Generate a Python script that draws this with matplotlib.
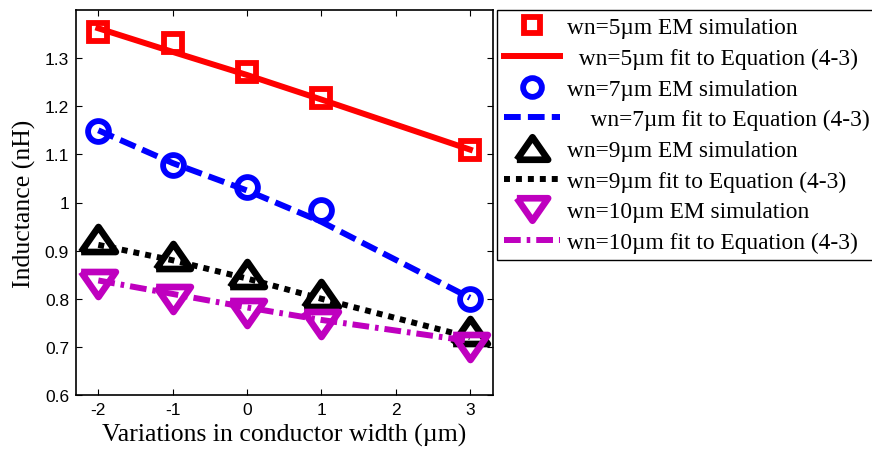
import matplotlib
matplotlib.use("Agg")
import matplotlib.pyplot as plt
import numpy as np

plt.rcParams["axes.unicode_minus"] = False

# variation in conductor width (um)
dw = [-2, -1, 0, 1, 3]

# EM simulation results (nH)
em_5 = [1.355, 1.332, 1.271, 1.218, 1.109]
em_7 = [1.149, 1.078, 1.032, 0.985, 0.800]
em_9 = [0.925, 0.888, 0.851, 0.809, 0.732]
em_10 = [0.830, 0.800, 0.771, 0.748, 0.699]

# fitted curves, Equation (4-3)
fit_5 = [1.362, 1.313, 1.265, 1.214, 1.110]
fit_7 = [1.150, 1.082, 1.025, 0.960, 0.802]
fit_9 = [0.912, 0.880, 0.842, 0.800, 0.720]
fit_10 = [0.838, 0.810, 0.782, 0.756, 0.712]

labels = ["wn=5\u00b5m EM simulation", "  wn=5\u00b5m fit to Equation (4-3)",
          "wn=7\u00b5m EM simulation", "    wn=7\u00b5m fit to Equation (4-3)",
          "wn=9\u00b5m EM simulation", "wn=9\u00b5m fit to Equation (4-3)",
          "wn=10\u00b5m EM simulation", "wn=10\u00b5m fit to Equation (4-3)"]

serif = "Liberation Serif"
sans = "Liberation Sans"

fig = plt.figure(figsize=(8.72, 4.56), dpi=100)
ax = fig.add_axes([76 / 872, 60 / 456, 417 / 872, 385 / 456])

tri_up = [(-1, -0.72), (1, -0.72), (0, 0.72), (-1, -0.72)]
tri_dn = [(-1, 0.72), (1, 0.72), (0, -0.72), (-1, 0.72)]

ms_kw = dict(linestyle="none", markerfacecolor="none", markeredgewidth=4.2)
ax.plot(dw, em_5, marker="s", markersize=13, color="#ff0000", label=labels[0], **ms_kw)
ax.plot(dw, fit_5, "-", color="#ff0000", lw=4.3, label=labels[1])
ax.plot(dw, em_7, marker="o", markersize=15, color="#0000ff", label=labels[2], **ms_kw)
ax.plot(dw, fit_7, color="#0000ff", lw=4.3, dashes=(2.8, 1.2), label=labels[3])
ax.plot(dw, em_9, marker=tri_up, markersize=25, color="k", label=labels[4],
        linestyle="none", markerfacecolor="none", markeredgewidth=4.8)
ax.plot(dw, fit_9, color="k", lw=4.3, dashes=(1.0, 1.0), label=labels[5])
ax.plot(dw, em_10, marker=tri_dn, markersize=25, color="#bf00bf", label=labels[6],
        linestyle="none", markerfacecolor="none", markeredgewidth=4.8)
ax.plot(dw, fit_10, color="#bf00bf", lw=4.3, dashes=(2.8, 1.0, 0.6, 1.0), label=labels[7])

ax.set_xlim(-2.3, 3.31)
ax.set_ylim(0.6, 1.4)
ax.set_xticks([-2, -1, 0, 1, 2, 3])
ax.set_yticks([0.6, 0.7, 0.8, 0.9, 1.0, 1.1, 1.2, 1.3])
ax.set_yticklabels(["0.6", "0.7", "0.8", "0.9", "1", "1.1", "1.2", "1.3"])
ax.tick_params(direction="in", top=True, right=True, length=4.5, width=0.8,
               labelsize=12.5, pad=5)
for lab in ax.get_xticklabels() + ax.get_yticklabels():
    lab.set_fontfamily(sans)
for sp in ax.spines.values():
    sp.set_linewidth(1.2)

ax.set_xlabel("Variations in conductor width (\u00b5m)", fontfamily=serif, fontsize=18.5, labelpad=4)
ax.set_ylabel("Inductance (nH)", fontfamily=serif, fontsize=18.5, labelpad=6)

leg = ax.legend(loc="upper left", bbox_to_anchor=(497 / 872, 445 / 456),
                bbox_transform=fig.transFigure, prop={"family": serif, "size": 16.8},
                frameon=True, fancybox=False, edgecolor="k", framealpha=1,
                borderaxespad=0, borderpad=0.3, labelspacing=0.4,
                handlelength=2.4, handletextpad=0.3, markerscale=0.9)
leg.get_frame().set_linewidth(1.0)

fig.savefig("out.png", dpi=100)
